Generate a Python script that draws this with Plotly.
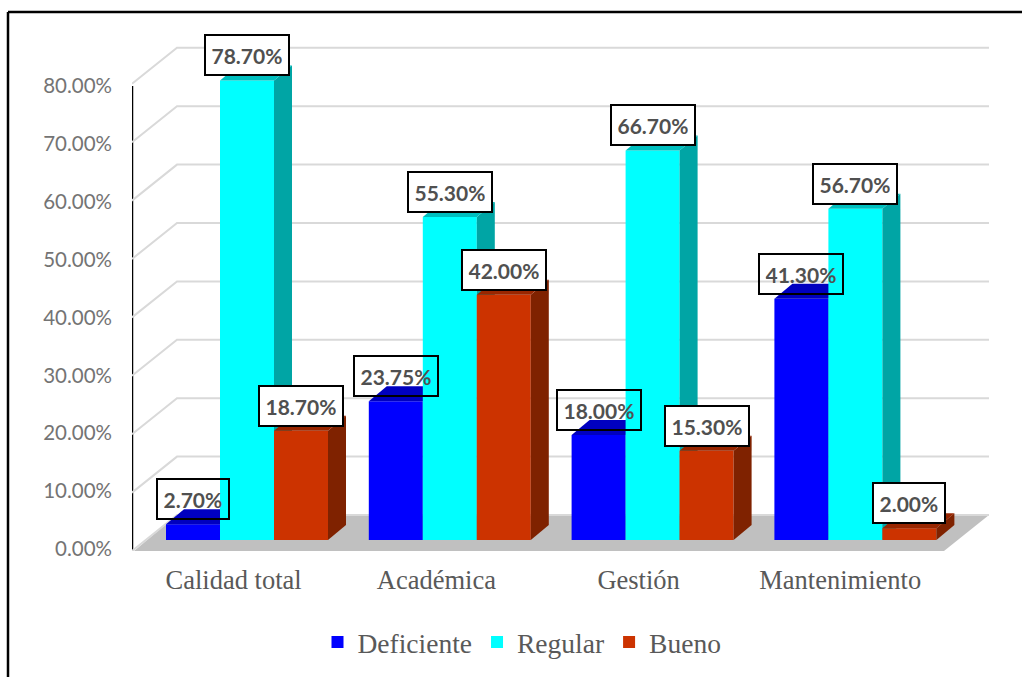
import plotly.graph_objects as go

categories = ["Calidad total", "Académica", "Gestión", "Mantenimiento"]
deficiente = [2.70, 23.75, 18.00, 41.30]
regular = [78.70, 55.30, 66.70, 56.70]
bueno = [18.70, 42.00, 15.30, 2.00]
axis_ticks = [0, 10, 20, 30, 40, 50, 60, 70, 80]
axis_labels = ["0.00%", "10.00%", "20.00%", "30.00%", "40.00%", "50.00%", "60.00%", "70.00%", "80.00%"]

W, H = 1022, 677
L, R, T, B = 132, 1000, 30, 551      # plot area, pixels
PX_X = 202.8                         # pixels per category
X0_PX = 247.0                        # pixel of first category centre
PX_Y = 5.84                          # pixels per percentage point
xmin = (L - X0_PX) / PX_X
xmax = (R - X0_PX) / PX_X
ymax = (B - T) / PX_Y

BASE = (B - 540) / PX_Y              # front plane of the bars above the floor edge
BAR_W = 54 / PX_X
DX, DY = 18 / PX_X, 15 / PX_Y        # bar depth
WX, WY = 45 / PX_X, 36 / PX_Y        # floor depth
FLOOR_RIGHT = (944 - X0_PX) / PX_X

series = [
    ("Deficiente", deficiente, "#0000FF", "#0000A8", "#0000C0", -BAR_W, "rgba(255,255,255,0)"),
    ("Regular", regular, "#00FFFF", "#00A5A5", "#00BFBF", 0.0, "#FFFFFF"),
    ("Bueno", bueno, "#CC3300", "#7F2200", "#992600", BAR_W, "#FFFFFF"),
]

fig = go.Figure()

# visible value axis: the line at the left
fig.add_trace(go.Scatter(x=[xmin, xmin], y=[-0.4, 80], mode="lines",
                         line=dict(color="#000000", width=2.5), yaxis="y",
                         showlegend=False, hoverinfo="skip", cliponaxis=False))

# floor
fig.add_trace(go.Scatter(
    x=[xmin + 0.01, FLOOR_RIGHT, FLOOR_RIGHT + WX, xmin + WX, xmin + 0.01],
    y=[0, 0, WY, WY, 0], mode="lines", fill="toself", fillcolor="#C0C0C0",
    line=dict(width=0, color="#C0C0C0"), yaxis="y2", showlegend=False, hoverinfo="skip"))

# wall gridlines
for t in axis_ticks[:]:
    fig.add_trace(go.Scatter(
        x=[xmin, xmin + WX, FLOOR_RIGHT + WX], y=[t, t + WY, t + WY], mode="lines",
        line=dict(color="#D9D9D9", width=2), yaxis="y2", showlegend=False, hoverinfo="skip"))

annotations = []
for k, (name, vals, front, side, top, off, label_bg) in enumerate(series):
    ax = f"y{k + 3}"
    xs = [i + off for i in range(len(categories))]
    fig.add_trace(go.Bar(x=xs, y=vals, base=[BASE] * len(vals), width=BAR_W, name=name,
                         marker=dict(color=front, line=dict(width=0)), yaxis=ax,
                         hoverinfo="skip"))
    for x, v in zip(xs, vals):
        xl, xr = x - BAR_W / 2, x + BAR_W / 2
        yt = BASE + v
        fig.add_trace(go.Scatter(
            x=[xr, xr + DX, xr + DX, xr, xr], y=[BASE, BASE + DY, yt + DY, yt, BASE],
            mode="lines", fill="toself", fillcolor=side, line=dict(width=0, color=side),
            yaxis=ax, showlegend=False, hoverinfo="skip"))
        fig.add_trace(go.Scatter(
            x=[xl, xl + DX, xr + DX, xr, xl], y=[yt, yt + DY, yt + DY, yt, yt],
            mode="lines", fill="toself", fillcolor=top, line=dict(width=0, color=top),
            yaxis=ax, showlegend=False, hoverinfo="skip"))
        annotations.append(dict(
            x=x, y=yt, xref="x", yref="y2", yshift=25, showarrow=False,
            text=f"<b>{v:.2f}%</b>", font=dict(family="Lato", size=21, color="#505050"),
            bgcolor=label_bg, bordercolor="#000000", borderwidth=2, borderpad=5.5, height=27,
            xanchor="center", yanchor="middle"))

hidden = dict(overlaying="y", visible=False, range=[0, ymax], fixedrange=True)

px = lambda v: (v - L) / (R - L)
py = lambda v: (B - v) / (B - T)

fig.update_layout(
    width=W, height=H, margin=dict(l=L, r=W - R, t=T, b=H - B, autoexpand=False),
    paper_bgcolor="#FFFFFF", plot_bgcolor="rgba(0,0,0,0)", barmode="overlay",
    font=dict(family="Liberation Serif", size=26, color="#595959"),
    xaxis=dict(range=[xmin, xmax], showgrid=False, zeroline=False, showline=False,
               tickmode="array", tickvals=[-0.066, 0.934, 1.931, 2.925],
               ticktext=categories, ticks="", ticklabelstandoff=10,
               tickfont=dict(family="Liberation Serif", size=26.5, color="#595959")),
    yaxis=dict(range=[(549 - B) / 5.7875, (549 - T) / 5.7875], showgrid=False, zeroline=False,
               showline=False, tickmode="array", tickvals=axis_ticks, ticktext=axis_labels,
               ticks="", ticklabelstandoff=19,
               tickfont=dict(family="Lato", size=20.5, color="#747474")),
    yaxis2=hidden, yaxis3=hidden, yaxis4=hidden, yaxis5=hidden,
    legend=dict(orientation="h", x=px(522), y=py(642), xanchor="center", yanchor="middle",
                font=dict(family="Liberation Serif", size=27.5, color="#595959"),
                bgcolor="rgba(0,0,0,0)", itemclick=False, itemdoubleclick=False),
    annotations=annotations,
    shapes=[dict(type="line", xref="paper", yref="paper", x0=px(8), x1=px(8),
                 y0=py(12), y1=py(690), line=dict(color="#000000", width=2.5), layer="above"),
            dict(type="line", xref="paper", yref="paper", x0=px(8), x1=px(1030),
                 y0=py(12), y1=py(12), line=dict(color="#000000", width=2.5), layer="above")],
)

fig.write_html("out.html", config={"displayModeBar": False},
               post_script="document.body.style.margin='0';document.body.style.overflow='hidden';")
